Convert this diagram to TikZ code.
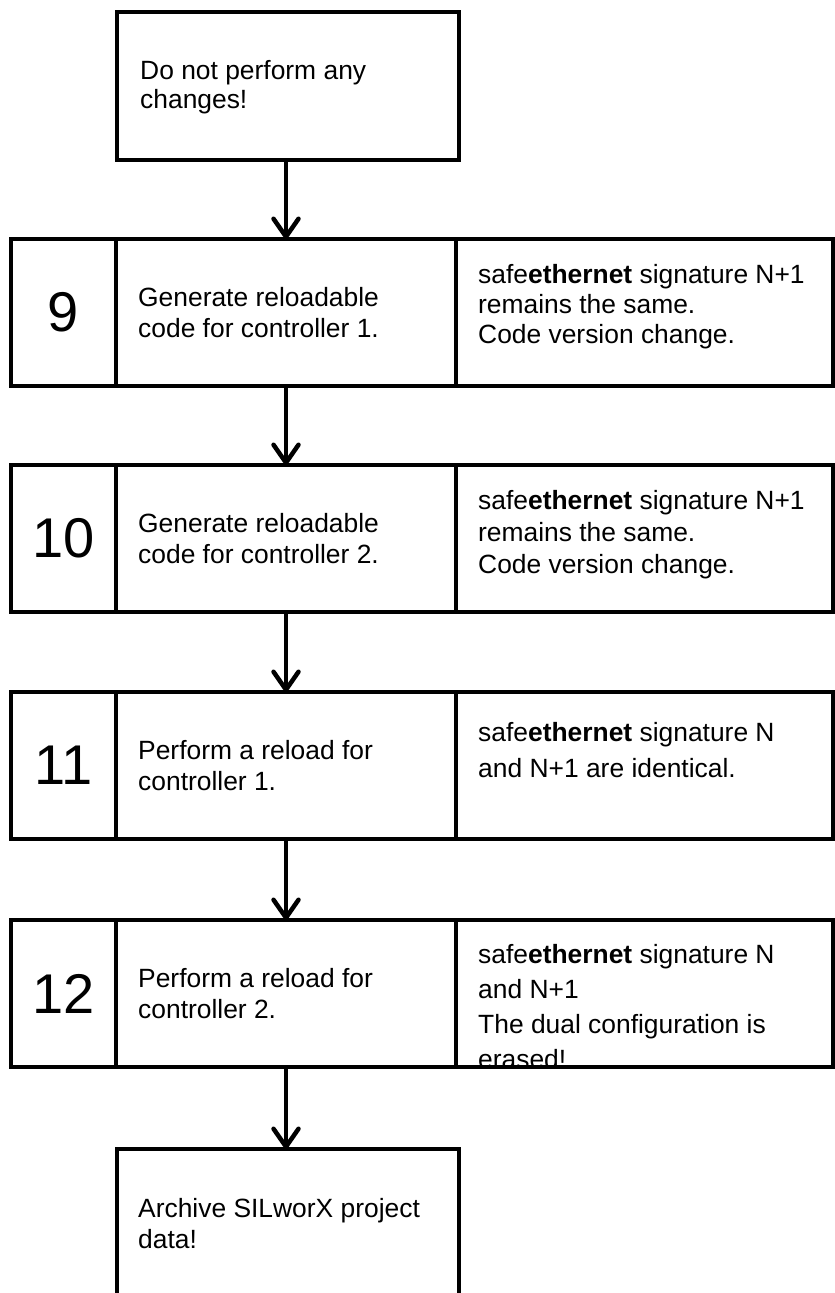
\documentclass[tikz,border=0pt]{standalone}
\usepackage{fontspec}
\setmainfont{Liberation Sans}
\usetikzlibrary{arrows.meta}
\begin{document}
\begin{tikzpicture}[x=1pt,y=-1pt,
  box/.style={draw, line width=4pt, inner sep=0pt, outer sep=0pt, anchor=north west},
  txt/.style={font=\fontsize{26.4}{31}\selectfont, align=left, inner sep=0pt},
  num/.style={font=\fontsize{56}{60}\selectfont},
  flow/.style={line width=4.5pt, -{Straight Barb[length=18pt,width=25pt,round]}}
]
\clip (0,0) rectangle (835,1293);
% top and bottom boxes
\node[box, minimum width=342pt, minimum height=148pt] (top) at (117,12) {};
\node[txt, anchor=west, font=\fontsize{26.4}{29}\selectfont] (toptxt) at (140,87) {Do not perform any\\changes!};
\node[box, minimum width=342pt, minimum height=150pt] (bot) at (117,1149) {};
\node[txt, anchor=west] (bottxt) at (138,1224) {Archive SILworX project\\data!};

% rows
\foreach \r/\y/\n in {9/239/9,10/465/10,11/692/11,12/920/12}{
  \node[box, minimum width=105pt, minimum height=147pt] (n\r) at (11,\y) {};
  \node[box, minimum width=340pt, minimum height=147pt] (m\r) at (116,\y) {};
  \node[box, minimum width=377pt, minimum height=147pt] (r\r) at (456,\y) {};
  \node[num] (nt\r) at (n\r.center) {\n};
}
% middle texts
\node[txt, anchor=west] (mt9) at (138,313) {Generate reloadable\\code for controller 1.};
\node[txt, anchor=west] (mt10) at (138,539) {Generate reloadable\\code for controller 2.};
\node[txt, anchor=west] (mt11) at (138,766) {Perform a reload for\\controller 1.};
\node[txt, anchor=west] (mt12) at (138,994) {Perform a reload for\\controller 2.};
% right texts
\node[txt, anchor=north west, font=\fontsize{26.4}{30}\selectfont] (rt9) at (478,264)
  {safe\textbf{ethernet} signature N+1\\remains the same.\\Code version change.};
\node[txt, anchor=north west, font=\fontsize{26.4}{32}\selectfont] (rt10) at (478,490)
  {safe\textbf{ethernet} signature N+1\\remains the same.\\Code version change.};
\node[txt, anchor=north west, font=\fontsize{26.4}{36}\selectfont] (rt11) at (478,722)
  {safe\textbf{ethernet} signature N\\and N+1 are identical.};
\begin{scope}
  \clip (458,922) rectangle (831,1067);
  \node[txt, anchor=north west, font=\fontsize{26.4}{35}\selectfont] (rt12) at (478,944)
    {safe\textbf{ethernet} signature N\\and N+1\\The dual configuration is\\erased!};
\end{scope}
\node[box, minimum width=377pt, minimum height=147pt] (r12b) at (456,920) {};

% connectors
\draw[flow] (m9.north |- top.south) -- (m9.north);
\draw[flow] (m9.south) -- (m10.north);
\draw[flow] (m10.south) -- (m11.north);
\draw[flow] (m11.south) -- (m12.north);
\draw[flow] (m12.south) -- (m12.south |- bot.north);
\end{tikzpicture}
\end{document}
